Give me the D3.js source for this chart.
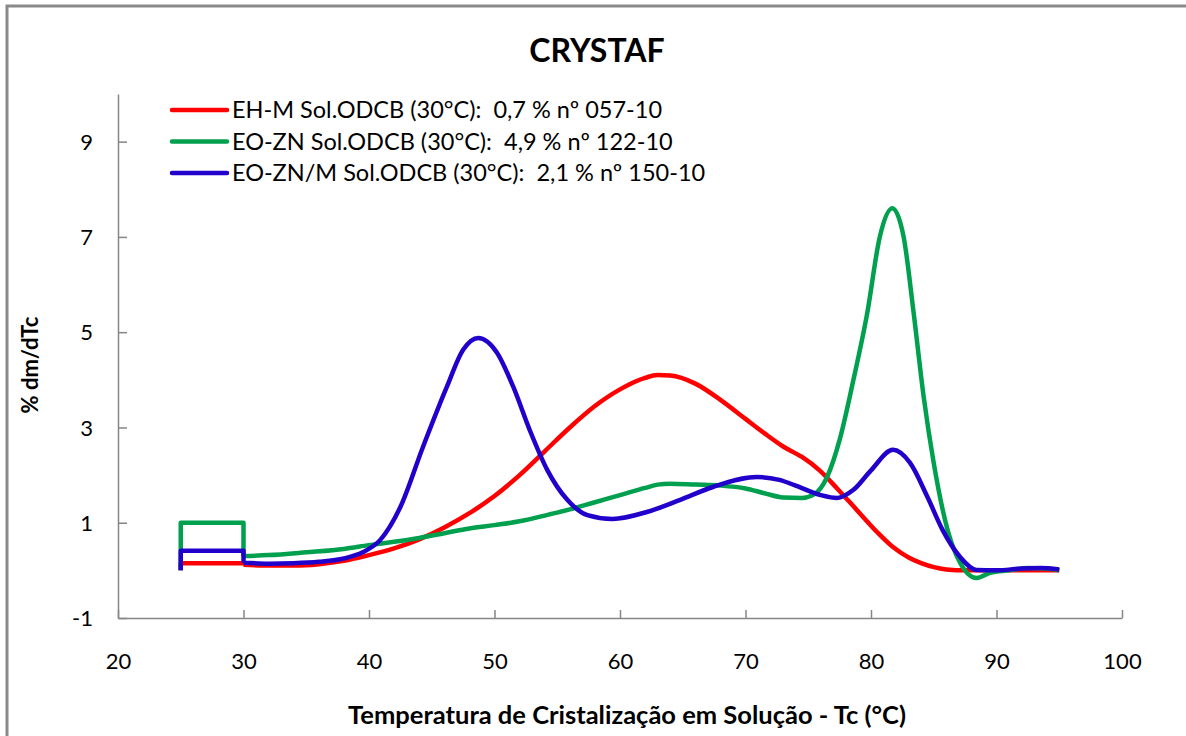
<!DOCTYPE html>
<html>
<head>
<meta charset="utf-8">
<script src="https://cdn.jsdelivr.net/npm/d3@7"></script>
<style>
    body { margin: 0; background: #fff; }
    svg { display: block; }
</style>
</head>
<body>
<div id="chart"></div>
<script>
//
// CRYSTAF curves - % dm/dTc vs Tc
//

// tick values
var xTicks = [20, 30, 40, 50, 60, 70, 80, 90, 100];
var yTicks = [-1, 1, 3, 5, 7, 9];

// series names (legend)
var seriesNames = [
    'EH-M Sol.ODCB (30°C):  0,7 % nº 057-10',
    'EO-ZN Sol.ODCB (30°C):  4,9 % nº 122-10',
    'EO-ZN/M Sol.ODCB (30°C):  2,1 % nº 150-10'
];
var seriesColors = ['#ff0000', '#00a04f', '#2200cc'];

// soluble fraction plateau (25..30 °C)
var stepLevels = [0.15, 1.0, 0.41];

// curves from 30 °C on: [Tc, %dm/dTc]
var ehmData = [[30, 0.12], [32, 0.1], [34, 0.1], [36, 0.13], [38, 0.2], [40, 0.32], [42, 0.46], [44, 0.65],
    [46, 0.9], [48, 1.2], [50, 1.56], [52, 2.0], [54, 2.5], [56, 3.0], [58, 3.45], [60, 3.8], [62, 4.04],
    [63, 4.1], [64, 4.09], [66, 3.92], [68, 3.58], [70, 3.18], [71.5, 2.88], [73, 2.6], [74.5, 2.38],
    [75.9, 2.1], [77.3, 1.72], [79.1, 1.2], [80.5, 0.8], [81.75, 0.49], [83, 0.27], [84, 0.15], [86, 0.02],
    [87.5, 0], [90, 0], [95, 0]];
var eoznData = [[30, 0.3], [32, 0.32], [35, 0.38], [38, 0.45], [40, 0.53], [42, 0.6], [44, 0.68], [46, 0.78],
    [48, 0.88], [50, 0.95], [52, 1.03], [54, 1.15], [56, 1.28], [58, 1.43], [60, 1.58], [62, 1.73], [63, 1.8],
    [64, 1.82], [66, 1.8], [68, 1.78], [70, 1.72], [71.5, 1.62], [73, 1.53], [74.5, 1.52], [75.5, 1.6],
    [76.5, 1.96], [77.5, 2.74], [78.6, 4.0], [79.7, 5.4], [80.7, 7.0], [81.7, 7.6], [82.6, 7.0], [83.4, 5.4],
    [84.2, 3.64], [85, 2.25], [86.1, 0.85], [87.1, 0.16], [88.4, -0.16], [89.5, -0.05], [91, 0.0],
    [92.5, 0.05], [94, 0.04], [95, 0.0]];
var eoznmData = [[30, 0.16], [32, 0.14], [34, 0.15], [36, 0.18], [38, 0.25], [39.5, 0.38], [40.9, 0.64],
    [42.5, 1.33], [44.3, 2.59], [46.2, 3.85], [47.5, 4.63], [48.7, 4.88], [50.2, 4.57], [51.5, 3.85],
    [52.8, 2.95], [54.2, 2.11], [55.8, 1.48], [57.4, 1.16], [59.4, 1.08], [62.2, 1.23], [64.8, 1.48],
    [67.4, 1.75], [70.9, 1.96], [72.7, 1.9], [73.9, 1.79], [76, 1.58], [77.3, 1.52], [78.6, 1.69], [80, 2.1],
    [81.75, 2.53], [83.1, 2.26], [84.5, 1.54], [85.7, 0.85], [87.1, 0.28], [88.4, 0.01], [90, 0.0],
    [92, 0.04], [93.5, 0.05], [95, 0.02]];

var allSeries = [ehmData, eoznData, eoznmData];

var width = 1186;
var height = 736;
var axisColor = '#868686';
var fontFam = 'Lato, "Noto Sans", sans-serif';

var svg = d3.select('#chart')
    .append('svg')
    .attr('width', width)
    .attr('height', height);

// outer frame (only top/left visible)
svg.append('rect')
    .attr('x', 7).attr('y', 6)
    .attr('width', 1300).attr('height', 900)
    .attr('fill', 'none')
    .attr('stroke', '#8a8a8a')
    .attr('stroke-width', 3);

var x = d3.scaleLinear().domain([20, 100]).range([118, 1122]);
var y = d3.scaleLinear().domain([-1, 10]).range([618, 94]);

// title
svg.append('text')
    .attr('x', 597).attr('y', 62)
    .attr('text-anchor', 'middle')
    .style('font-family', fontFam)
    .style('font-weight', 'bold')
    .style('font-size', '32px')
    .text('CRYSTAF');

// x axis
var xAxis = svg.append('g')
    .attr('transform', 'translate(0,' + y(-1) + ')')
    .call(d3.axisBottom(x).tickValues(xTicks).tickSizeInner(-8).tickSizeOuter(0).tickPadding(0)
        .tickFormat(function (d) { return String(d); }));
xAxis.select('.domain').attr('stroke', axisColor).attr('stroke-width', 1.5);
xAxis.selectAll('.tick line').attr('stroke', axisColor).attr('stroke-width', 1.5);
xAxis.selectAll('.tick text')
    .attr('y', 51)
    .attr('dy', null)
    .style('font-family', fontFam)
    .style('font-size', '22px')
    .attr('fill', '#000');

// y axis
var yAxis = svg.append('g')
    .attr('transform', 'translate(' + x(20) + ',0)')
    .call(d3.axisLeft(y).tickValues(yTicks).tickSizeInner(-9).tickSizeOuter(0).tickPadding(0)
        .tickFormat(function (d) { return String(d); }));
yAxis.select('.domain').attr('stroke', axisColor).attr('stroke-width', 1.5);
yAxis.selectAll('.tick line').attr('stroke', axisColor).attr('stroke-width', 1.5);
yAxis.selectAll('.tick text')
    .attr('x', -25)
    .attr('dy', '0.35em')
    .style('font-family', fontFam)
    .style('font-size', '22px')
    .attr('fill', '#000');

// axis titles
svg.append('text')
    .attr('x', 627).attr('y', 724)
    .attr('text-anchor', 'middle')
    .style('font-family', fontFam)
    .style('font-weight', 'bold')
    .style('font-size', '25.5px')
    .text('Temperatura de Cristalização em Solução - Tc (°C)');

svg.append('text')
    .attr('transform', 'translate(38,365) rotate(-90)')
    .attr('text-anchor', 'middle')
    .style('font-family', fontFam)
    .style('font-weight', 'bold')
    .style('font-size', '22px')
    .text('% dm/dTc');

// lines
var stepLine = d3.line()
    .x(function (d) { return x(d[0]); })
    .y(function (d) { return y(d[1]); });
var smoothLine = d3.line()
    .x(function (d) { return x(d[0]); })
    .y(function (d) { return y(d[1]); })
    .curve(d3.curveMonotoneX);

var plot = svg.append('g');
for (i = 0; i < allSeries.length; i++) {
    var data = allSeries[i];
    var lvl = stepLevels[i];
    var stepPts = [[25, 0], [25, lvl], [30, lvl], [30, data[0][1]]];
    var p = d3.path();
    stepLine.context(p)(stepPts);
    smoothLine.context(p)(data);
    plot.append('path')
        .attr('d', p.toString())
        .attr('fill', 'none')
        .attr('stroke', seriesColors[i])
        .attr('stroke-width', 4.5)
        .attr('stroke-linejoin', 'round');
}

// legend
var legend = svg.selectAll('.legend')
    .data(seriesNames)
    .enter()
    .append('g')
    .attr('class', 'legend')
    .attr('transform', function (d, idx) { return 'translate(172,' + (110 + idx * 31.5) + ')'; });

legend.append('line')
    .attr('x1', 0).attr('x2', 55)
    .attr('y1', 0).attr('y2', 0)
    .attr('stroke', function (d, idx) { return seriesColors[idx]; })
    .attr('stroke-width', 4.5)
    .attr('stroke-linecap', 'round');

legend.append('text')
    .attr('x', 60)
    .attr('dy', '0.35em')
    .style('font-family', fontFam)
    .style('font-size', '23.5px')
    .style('white-space', 'pre')
    .attr('xml:space', 'preserve')
    .text(function (d) { return d; });
</script>
</body>
</html>
